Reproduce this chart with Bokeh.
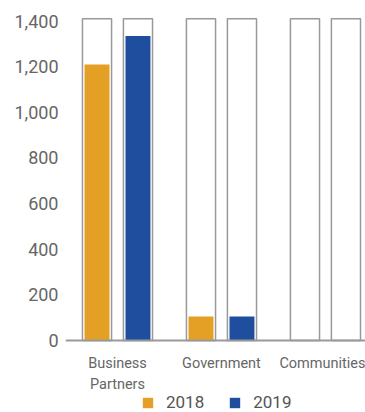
from bokeh.plotting import figure
from bokeh.models import Range1d, FixedTicker, Legend, LegendItem, ColumnDataSource
from bokeh.transform import dodge
from bokeh.embed import file_html
from bokeh.resources import INLINE

categories = ["Business\nPartners", "Government", "Communities"]
v2018 = [1210, 105, 2]
v2019 = [1335, 105, 2]
box_max = [1410, 1410, 1410]
y_ticks = [0, 200, 400, 600, 800, 1000, 1200, 1400]

xpos = [i + 0.5 for i in range(len(categories))]
src = ColumnDataSource(dict(x=xpos, a=v2018, b=v2019, m=box_max))

p = figure(width=365, height=412, output_backend="svg", toolbar_location=None,
           x_range=Range1d(0, 2.885), y_range=Range1d(-315.6, 1420),
           min_border_left=65, min_border_right=0, min_border_top=16,
           min_border_bottom=0)
p.outline_line_color = None
p.xgrid.visible = False
p.ygrid.visible = False

off = 0.197
for d in (-off, off):
    p.vbar(x=dodge("x", d), top="m", bottom=0, width=0.28, source=src,
           fill_color="white", line_color="#999999", line_width=1.5)
r1 = p.vbar(x=dodge("x", -off), top="a", bottom=0, width=0.24, source=src,
            fill_color="#E3A024", line_color=None)
r2 = p.vbar(x=dodge("x", off), top="b", bottom=0, width=0.24, source=src,
            fill_color="#1F4E9F", line_color=None)

p.xaxis.fixed_location = 0
p.xaxis.ticker = FixedTicker(ticks=xpos)
p.xaxis.major_label_overrides = {x: c for x, c in zip(xpos, categories)}
p.xaxis.major_tick_line_color = None
p.xaxis.major_tick_out = 0
p.xaxis.major_tick_in = 0
p.xaxis.minor_tick_line_color = None
p.xaxis.axis_line_color = "#999999"
p.xaxis.axis_line_width = 2
p.xaxis.major_label_text_font = "Roboto"
p.xaxis.major_label_text_font_size = "14.5px"
p.xaxis.major_label_text_color = "#666666"
p.xaxis.major_label_standoff = 15

p.yaxis.ticker = FixedTicker(ticks=y_ticks)
p.yaxis.major_label_overrides = {t: f"{t:,}" for t in y_ticks}
p.yaxis.axis_line_color = None
p.yaxis.major_tick_line_color = None
p.yaxis.major_tick_out = 0
p.yaxis.major_tick_in = 0
p.yaxis.minor_tick_line_color = None
p.yaxis.major_label_text_font = "Roboto"
p.yaxis.major_label_text_font_size = "18px"
p.yaxis.major_label_text_color = "#666666"
p.yaxis.major_label_standoff = 7

legend = Legend(items=[LegendItem(label="2018", renderers=[r1]),
                       LegendItem(label="2019", renderers=[r2])],
                orientation="horizontal", location=(76, 0),
                label_text_font="Roboto", label_text_font_size="17px",
                label_text_color="#555555", glyph_width=13, glyph_height=13,
                label_standoff=12, spacing=24, padding=0, margin=0,
                label_height=14,
                border_line_color=None, background_fill_alpha=0)
p.add_layout(legend)

open("out.html", "w").write(file_html(p, INLINE))
